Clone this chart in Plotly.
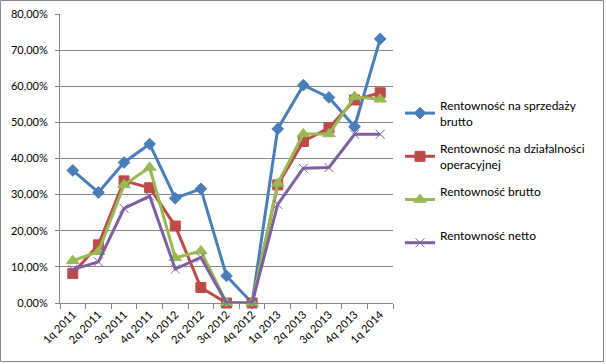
import plotly.graph_objects as go

categories = ["1q 2011", "2q 2011", "3q 2011", "4q 2011", "1q 2012", "2q 2012", "3q 2012",
              "4q 2012", "1q 2013", "2q 2013", "3q 2013", "4q 2013", "1q 2014"]

sprzedaz_brutto = [36.7, 30.6, 38.9, 44.0, 29.0, 31.6, 7.5, 0.0, 48.2, 60.3, 56.9, 48.8, 73.1]
operacyjna = [8.2, 16.1, 33.8, 31.9, 21.3, 4.3, 0.0, 0.0, 32.7, 44.7, 48.5, 56.2, 58.2]
brutto = [11.7, 14.2, 32.7, 37.5, 12.5, 14.4, 0.0, 0.0, 33.1, 46.8, 46.8, 57.1, 56.4]
netto = [9.3, 11.4, 26.2, 29.6, 9.4, 12.6, 0.0, 0.0, 27.3, 37.3, 37.5, 46.7, 46.7]

series_names = ["Rentowność na sprzedaży<br>brutto", "Rentowność na działalności<br>operacyjnej",
                "Rentowność brutto<br> ", "Rentowność netto<br> "]

W, H = 606, 364
L, R, T, B = 60, 393, 14, 303

series = [
    (series_names[0], sprzedaz_brutto, "#4A7EBB", "diamond", 9),
    (series_names[1], operacyjna, "#BE4B48", "square", 10),
    (series_names[2], brutto, "#98B954", "triangle-up", 11),
    (series_names[3], netto, "#7D60A0", "x-thin", 9),
]

fig = go.Figure()
for i, (name, vals, col, sym, sz) in enumerate(series):
    fig.add_trace(go.Scatter(
        x=categories, y=[v / 100 for v in vals], name=name, mode="lines+markers",
        line=dict(color=col, width=3),
        marker=dict(symbol=sym, size=sz, color=col, line=dict(color=col, width=1)),
        cliponaxis=False, legendgroup=str(i),
    ))

def px(x):
    return (x - L) / (R - L)

def py(y):
    return (B - y) / (B - T)

fig.add_shape(type="rect", xref="paper", yref="paper",
              x0=px(0.5), x1=px(603.5), y0=py(361.5), y1=py(0.5),
              line=dict(color="#868686", width=1), layer="below")

fig.update_layout(
    width=W, height=H,
    margin=dict(l=L, r=W - R, t=T, b=H - B, pad=0, autoexpand=False),
    paper_bgcolor="white", plot_bgcolor="white",
    separators=", ",
    font=dict(family="Lato, sans-serif", size=11, color="#000000"),
    showlegend=True,
    legend=dict(x=px(400), xanchor="left", y=py(91), yanchor="top",
                font=dict(size=12), tracegroupgap=9, bgcolor="rgba(0,0,0,0)"),
    xaxis=dict(type="category", tickangle=-45, tickson="boundaries", ticks="outside",
               ticklen=5, tickcolor="#868686", showline=True, linecolor="#868686",
               linewidth=1, showgrid=False, tickfont=dict(size=11), automargin=False,
               range=[-0.5, 12.5]),
    yaxis=dict(range=[0, 0.8], dtick=0.1, tickformat=".2%", showgrid=True,
               gridcolor="#868686", gridwidth=1, showline=True, linecolor="#868686",
               ticks="outside", ticklen=4, tickcolor="#868686", zeroline=False,
               tickfont=dict(size=11), automargin=False, ticklabelstandoff=5),
)

fig.write_html("out.html", config={"displayModeBar": False},
               post_script="document.body.style.margin='0';document.body.style.overflow='hidden';")
